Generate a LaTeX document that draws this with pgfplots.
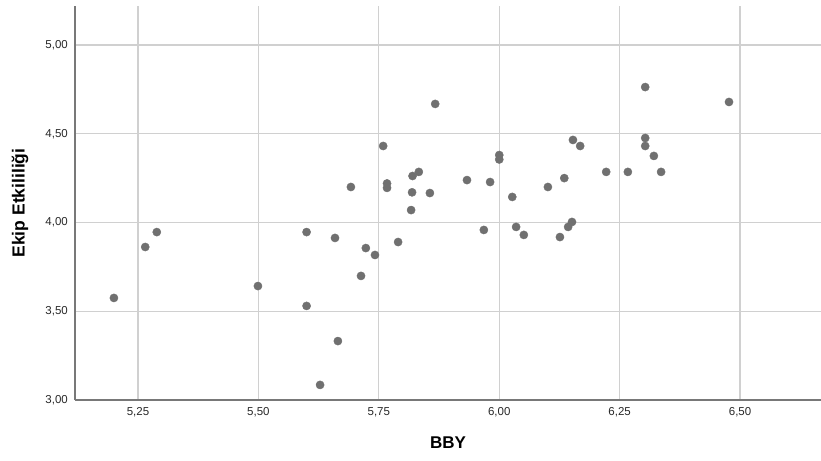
\documentclass[border=0pt]{standalone}
\usepackage{fontspec}
\setmainfont{Liberation Sans}
\usepackage{pgfplots}
\pgfplotsset{compat=1.18}
\definecolor{gridc}{RGB}{208,208,208}
\definecolor{axc}{RGB}{120,120,120}
\definecolor{ptc}{RGB}{112,112,112}
\definecolor{txtc}{RGB}{40,40,40}
\begin{document}
\begin{tikzpicture}[x=1pt,y=1pt]
\useasboundingbox (0,0) rectangle (821,460);
\begin{axis}[
  at={(75pt,60pt)}, anchor=south west,
  scale only axis, width=746pt, height=394pt,
  xmin=5.1192, xmax=6.668, ymin=3, ymax=5.2197,
  axis x line=bottom, axis y line=left,
  axis line style={-, axc, line width=1.3pt},
  grid=major, grid style={gridc, line width=1.2pt},
  major tick length=0pt,
  xtick={5.25,5.5,5.75,6,6.25,6.5},
  xticklabels={{5,25},{5,50},{5,75},{6,00},{6,25},{6,50}},
  ytick={3,3.5,4,4.5,5},
  yticklabels={{3,00},{3,50},{4,00},{4,50},{5,00}},
  xticklabel style={font=\fontsize{11.5}{13}\selectfont, txtc, inner sep=0pt, yshift=-7pt},
  yticklabel style={font=\fontsize{11.5}{13}\selectfont, txtc, inner sep=0pt, xshift=-7pt},
  xlabel={\textbf{BBY}},
  ylabel={\textbf{Ekip Etkililiği}},
  xlabel style={at={(axis description cs:0.5,-0.109)}, anchor=center, font=\fontsize{17}{20}\selectfont, black},
  ylabel style={at={(axis description cs:-0.0737,0.5)}, anchor=center, font=\fontsize{17.5}{20}\selectfont, black},
  clip=false,
]
\addplot[only marks, mark=*, mark size=4.1pt, mark options={fill=ptc, draw=ptc, line width=0.4pt}] coordinates {
(5.20,3.575) (5.265,3.862) (5.289,3.946) (5.499,3.642) (5.60,3.946) (5.60,3.530)
(5.628,3.085) (5.665,3.332) (5.659,3.913) (5.692,4.200) (5.713,3.699) (5.723,3.856)
(5.742,3.817) (5.759,4.431) (5.767,4.220) (5.767,4.195) (5.790,3.890) (5.817,4.070)
(5.819,4.170) (5.820,4.262) (5.833,4.285) (5.856,4.166) (5.867,4.668) (5.933,4.239)
(5.968,3.958) (5.981,4.228) (6.000,4.380) (6.000,4.355) (6.027,4.144) (6.035,3.975)
(6.051,3.930) (6.101,4.200) (6.126,3.918) (6.135,4.250) (6.143,3.975) (6.151,4.003)
(6.153,4.465) (6.168,4.431) (6.222,4.285) (6.303,4.763) (6.303,4.476) (6.303,4.431)
(6.321,4.375) (6.336,4.285) (6.267,4.285) (6.477,4.679)
};
\end{axis}
\end{tikzpicture}
\end{document}
